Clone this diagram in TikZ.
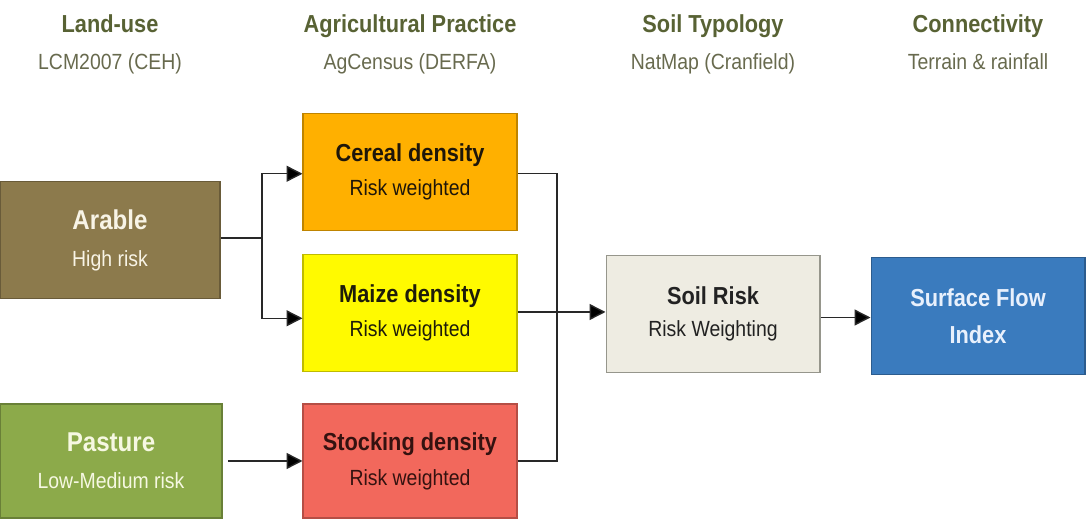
\documentclass[tikz,border=0pt]{standalone}
\usepackage{fontspec}
\setmainfont[FakeStretch=0.885]{Liberation Sans}
\usetikzlibrary{arrows.meta}

\definecolor{headcol}{RGB}{88,98,52}
\definecolor{subcol}{RGB}{104,106,78}
\definecolor{arablecol}{RGB}{140,122,76}
\definecolor{pasturecol}{RGB}{140,170,74}
\definecolor{cerealcol}{RGB}{255,176,0}
\definecolor{maizecol}{RGB}{255,250,0}
\definecolor{stockcol}{RGB}{242,104,92}
\definecolor{soilcol}{RGB}{238,236,226}
\definecolor{flowcol}{RGB}{58,123,190}
\definecolor{linecol}{RGB}{40,40,40}

\begin{document}
\begin{tikzpicture}[x=0.02cm, y=-0.02cm, line width=0.8pt,
  every node/.style={rectangle, align=center, inner sep=0pt},
  box/.style={draw=#1!75!black, line width=0.6pt, fill=#1, minimum width=4.28cm, minimum height=2.34cm},
  head/.style={text=headcol, anchor=base, font=\fontsize{14}{16}\selectfont\bfseries},
  source/.style={text=subcol, anchor=base, font=\fontsize{12.5}{14}\selectfont},
  wire/.style={draw=linecol},
  arrow/.style={wire, ->, >={Triangle[length=9pt,width=9pt,fill=black]}}]
\useasboundingbox (0,0) rectangle (1089,519);
% Column headers
\node[head] (hLand) at (110,33) {Land-use};
\node[source] (sLand) at (110,70) {LCM2007 (CEH)};
\node[head] (hAgri) at (410,33) {Agricultural Practice};
\node[source] (sAgri) at (410,70) {AgCensus (DERFA)};
\node[head] (hSoil) at (713,33) {Soil Typology};
\node[source] (sSoil) at (713,70) {NatMap (Cranfield)};
\node[head] (hConn) at (978,33) {Connectivity};
\node[source] (sConn) at (978,70) {Terrain \& rainfall};
% Land-use boxes
\node[box=arablecol, minimum width=4.4cm, text={rgb,255:red,248;green,244;blue,230}] (arable) at (110,240)
  {{\fontsize{15.5}{17}\selectfont\bfseries Arable}\\[9pt]{\fontsize{12.5}{14}\selectfont High risk}};
\node[box=pasturecol, minimum width=4.44cm, minimum height=2.28cm, text={rgb,255:red,246;green,248;blue,226}] (pasture) at (111,461)
  {{\fontsize{15.5}{17}\selectfont\bfseries Pasture}\\[9pt]{\fontsize{12.5}{14}\selectfont Low-Medium risk}};
% Agricultural practice boxes
\node[box=cerealcol, text={rgb,255:red,30;green,22;blue,10}] (cereal) at (410,172)
  {{\fontsize{14}{16}\selectfont\bfseries Cereal density}\\[7pt]{\fontsize{12.5}{14}\selectfont Risk weighted}};
\node[box=maizecol, text={rgb,255:red,30;green,28;blue,10}] (maize) at (410,313)
  {{\fontsize{14}{16}\selectfont\bfseries Maize density}\\[7pt]{\fontsize{12.5}{14}\selectfont Risk weighted}};
\node[box=stockcol, minimum height=2.28cm, text={rgb,255:red,52;green,18;blue,16}] (stocking) at (410,461)
  {{\fontsize{14}{16}\selectfont\bfseries Stocking density}\\[7pt]{\fontsize{12.5}{14}\selectfont Risk weighted}};
% Soil and connectivity
\node[box=soilcol, draw={rgb,255:red,150;green,150;blue,140}, text={rgb,255:red,34;green,34;blue,34}] (soil) at (713,314)
  {{\fontsize{14}{16}\selectfont\bfseries Soil Risk}\\[6pt]{\fontsize{12.5}{14}\selectfont Risk Weighting}};
\node[box=flowcol, text={rgb,255:red,232;green,240;blue,252}] (flow) at (978,316)
  {{\fontsize{14}{16}\selectfont\bfseries Surface Flow}\\[9pt]{\fontsize{14}{16}\selectfont\bfseries Index}};
% Junctions
\coordinate (jA) at (262,238);
\coordinate (jB) at (557,312);
% Connectors
\draw[wire] (arable.east |- jA) -- (jA);
\draw[arrow] (jA) |- ([yshift=-1]cereal.west);
\draw[arrow] (jA) |- ([yshift=-3]maize.west);
\draw[arrow] ([xshift=3]pasture.east) -- (stocking.west);
\draw[wire] ([yshift=-1]cereal.east) -| (jB);
\draw[wire] (stocking) -| (jB);
\draw[arrow] (maize.east |- jB) -- (soil.west |- jB);
\draw[arrow] ([yshift=-2]soil.east) -- ([yshift=-2]soil.east -| flow.west);
\end{tikzpicture}
\end{document}
